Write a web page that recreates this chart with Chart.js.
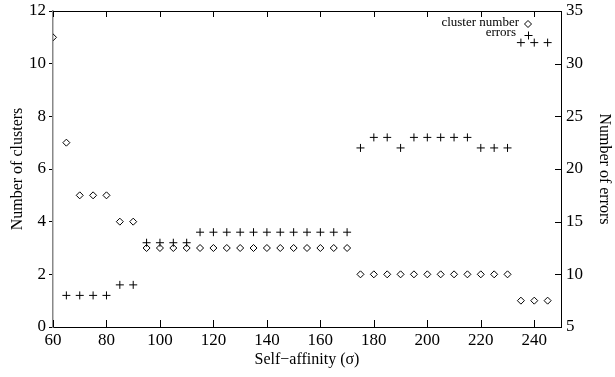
<!DOCTYPE html>
<html>
<head>
<meta charset="utf-8">
<script src="https://cdn.jsdelivr.net/npm/chart.js@4"></script>
<style>
	body { margin: 0; background: #fff; }
	#wrap { width: 615px; height: 377px; }
</style>
</head>
<body>
<div id="wrap"><canvas id="chart"></canvas></div>
<script>
// data
const sigma = [60, 65, 70, 75, 80, 85, 90, 95, 100, 105, 110, 115, 120, 125, 130, 135, 140, 145, 150, 155, 160, 165, 170,
	175, 180, 185, 190, 195, 200, 205, 210, 215, 220, 225, 230, 235, 240, 245];
const clusterNumber = [11, 7, 5, 5, 5, 4, 4, 3, 3, 3, 3, 3, 3, 3, 3, 3, 3, 3, 3, 3, 3, 3, 3,
	2, 2, 2, 2, 2, 2, 2, 2, 2, 2, 2, 2, 1, 1, 1];
const errors = [null, 8, 8, 8, 8, 9, 9, 13, 13, 13, 13, 14, 14, 14, 14, 14, 14, 14, 14, 14, 14, 14, 14,
	22, 23, 23, 22, 23, 23, 23, 23, 23, 22, 22, 22, 32, 32, 32];
const xTicks = [60, 80, 100, 120, 140, 160, 180, 200, 220, 240];
const clusterTicks = [0, 2, 4, 6, 8, 10, 12];
const errorTicks = [5, 10, 15, 20, 25, 30, 35];

const FONT = 'Liberation Serif, Times New Roman, serif';

function toPoints(xs, ys) {
	return xs.map((x, i) => ({ x: x, y: ys[i] })).filter(p => p.y !== null);
}

// inward tick marks, top frame line and the little legend
const framePlugin = {
	id: 'frame',
	afterDraw(chart) {
		const ctx = chart.ctx;
		const a = chart.chartArea;
		const xs = chart.scales.x, y1 = chart.scales.y1;
		ctx.save();
		ctx.strokeStyle = '#000';
		ctx.lineWidth = 1;
		ctx.beginPath();
		ctx.moveTo(a.left, a.top + 0.5);
		ctx.lineTo(a.right, a.top + 0.5);
		xTicks.forEach(v => {
			const px = Math.round(xs.getPixelForValue(v)) + 0.5;
			ctx.moveTo(px, a.bottom);
			ctx.lineTo(px, a.bottom - 7);
			ctx.moveTo(px, a.top);
			ctx.lineTo(px, a.top + 6);
		});
		errorTicks.forEach(v => {
			const py = Math.round(y1.getPixelForValue(v)) + 0.5;
			ctx.moveTo(a.right, py);
			ctx.lineTo(a.right - 6, py);
		});
		ctx.stroke();

		// legend
		ctx.font = '13px ' + FONT;
		ctx.fillStyle = '#000';
		ctx.textAlign = 'right';
		ctx.textBaseline = 'middle';
		ctx.fillText('cluster number', 519, 23);
		ctx.fillText('errors', 516, 33);
		ctx.beginPath();
		const dx = 528, dy = 24, r = 3.5;
		ctx.moveTo(dx, dy - r);
		ctx.lineTo(dx + r, dy);
		ctx.lineTo(dx, dy + r);
		ctx.lineTo(dx - r, dy);
		ctx.closePath();
		const cx = 528.5, cy = 35.5;
		ctx.moveTo(cx - 4, cy);
		ctx.lineTo(cx + 4, cy);
		ctx.moveTo(cx, cy - 4);
		ctx.lineTo(cx, cy + 4);
		ctx.stroke();
		ctx.restore();
	}
};

document.addEventListener('DOMContentLoaded', function () {
	Chart.defaults.font.family = FONT;
	Chart.defaults.font.size = 17;
	Chart.defaults.color = '#000';

	const titleFont = { size: 16 };

	new Chart(document.getElementById('chart'), {
		type: 'scatter',
		data: {
			datasets: [{
				label: 'cluster number',
				data: toPoints(sigma, clusterNumber),
				yAxisID: 'y',
				pointStyle: 'rectRot',
				pointRadius: 3.5,
				pointBorderWidth: 1,
				borderColor: '#000',
				backgroundColor: 'rgba(0,0,0,0)'
			}, {
				label: 'errors',
				data: toPoints(sigma, errors),
				yAxisID: 'y1',
				pointStyle: 'cross',
				pointRadius: 4,
				pointBorderWidth: 1,
				borderColor: '#000',
				backgroundColor: 'rgba(0,0,0,0)'
			}]
		},
		options: {
			responsive: true,
			maintainAspectRatio: false,
			animation: false,
			layout: { padding: { top: 11, left: 0, right: 0, bottom: 0 } },
			plugins: {
				legend: { display: false },
				tooltip: { enabled: false }
			},
			scales: {
				x: {
					type: 'linear',
					min: 60,
					max: 250,
					afterBuildTicks: s => { s.ticks = xTicks.map(v => ({ value: v })); },
					afterFit: s => { s.height = 50; s.paddingLeft = 0; s.paddingRight = 0; },
					grid: { display: true, drawOnChartArea: false, drawTicks: false },
					border: { color: '#000', width: 1 },
					ticks: { padding: 3, maxRotation: 0, autoSkip: false },
					title: { display: true, text: 'Self\u2212affinity (\u03c3)', font: titleFont, padding: { top: 0, bottom: 8 } }
				},
				y: {
					position: 'left',
					min: 0,
					max: 12,
					afterBuildTicks: s => { s.ticks = clusterTicks.map(v => ({ value: v })); },
					afterFit: s => { s.width = 53; s.paddingTop = 0; s.paddingBottom = 0; },
					grid: { drawOnChartArea: false, drawTicks: true, tickLength: 4, color: '#000' },
					border: { color: '#888', width: 1.5 },
					ticks: { padding: 3 },
					title: { display: true, text: 'Number of clusters', font: titleFont, padding: { top: 8, bottom: 0 } }
				},
				y1: {
					position: 'right',
					min: 5,
					max: 35,
					afterBuildTicks: s => { s.ticks = errorTicks.map(v => ({ value: v })); },
					afterFit: s => { s.width = 54; s.paddingTop = 0; s.paddingBottom = 0; },
					grid: { display: true, drawOnChartArea: false, drawTicks: false },
					border: { color: '#000', width: 1 },
					ticks: { padding: 5 },
					title: { display: true, text: 'Number of errors', font: titleFont, padding: { top: 1, bottom: 0 } }
				}
			}
		},
		plugins: [framePlugin]
	});
});
</script>
</body>
</html>
